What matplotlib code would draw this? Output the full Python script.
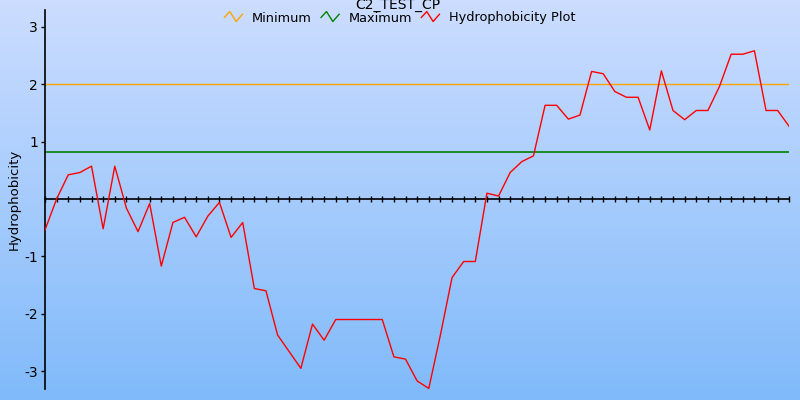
import matplotlib
matplotlib.use("Agg")
import matplotlib.pyplot as plt
import numpy as np
from matplotlib.legend_handler import HandlerBase
from matplotlib.lines import Line2D

title = "C2_TEST_CP"
ylabel = "Hydrophobicity"
series_names = ["Minimum", "Maximum", "Hydrophobicity Plot"]
series_colors = ["#FFA500", "#008000", "#FF0000"]
minimum_value = 2.0
maximum_value = 0.82
hydro = [-0.54, 0.0, 0.42, 0.46, 0.57, -0.52, 0.57, -0.16, -0.57, -0.08,
         -1.17, -0.41, -0.32, -0.66, -0.30, -0.06, -0.67, -0.41, -1.56, -1.60,
         -2.37, -2.66, -2.95, -2.18, -2.46, -2.10, -2.10, -2.10, -2.10, -2.10,
         -2.75, -2.79, -3.17, -3.30, -2.37, -1.37, -1.09, -1.09, 0.10, 0.05,
         0.46, 0.65, 0.75, 1.63, 1.63, 1.39, 1.46, 2.22, 2.18, 1.87,
         1.77, 1.77, 1.20, 2.23, 1.54, 1.38, 1.54, 1.54, 1.96, 2.52,
         2.52, 2.58, 1.54, 1.54, 1.26]
ytick_vals = [-3, -2, -1, 1, 2, 3]
ytick_labels = ["-3", "-2", "-1", "1", "2", "3"]

x = np.arange(len(hydro))

fig = plt.figure(figsize=(8, 4), dpi=100)

# gradient background
bg = fig.add_axes([0, 0, 1, 1], zorder=0)
grad = np.linspace(0, 1, 256).reshape(-1, 1)
top = np.array([204, 221, 255]) / 255
bot = np.array([128, 186, 250]) / 255
img = top[None, None, :] * (1 - grad[:, :, None]) + bot[None, None, :] * grad[:, :, None]
bg.imshow(img, aspect="auto", extent=[0, 1, 0, 1], origin="upper")
bg.set_axis_off()

ax_w = (789.3 - 45) / 800
ax = fig.add_axes([45 / 800, 1 - 389 / 400, ax_w, 379 / 400], zorder=1)
ax.patch.set_alpha(0)

ax.axhline(minimum_value, color=series_colors[0], lw=1.0, zorder=2)
ax.axhline(maximum_value, color=series_colors[1], lw=1.2, zorder=2)
ax.plot(x, hydro, color=series_colors[2], lw=1.0, zorder=3)

ax.set_xlim(0, len(hydro) - 1)
ax.set_ylim(-3.31, 3.29)

ax.spines["top"].set_visible(False)
ax.spines["right"].set_visible(False)
ax.spines["bottom"].set_position(("data", 0))
ax.spines["bottom"].set_linewidth(1.2)
ax.spines["left"].set_linewidth(1.2)
ax.set_xticks(x)
ax.set_xticklabels([])
ax.tick_params(axis="x", direction="inout", length=5, width=1.0, color="black")
ax.set_yticks(ytick_vals)
ax.set_yticklabels(ytick_labels, fontsize=10)
ax.tick_params(axis="y", direction="out", length=3, width=1, pad=2)
ax.set_ylabel(ylabel, fontsize=9.5)
ax.yaxis.set_label_coords(-(45 - 21) / 800 / ax_w, 0.5)


class ZigZagHandler(HandlerBase):
    def create_artists(self, legend, orig_handle, xdescent, ydescent,
                       width, height, fontsize, trans):
        xs = np.array([0.0, 0.3, 0.65, 1.0]) * width - xdescent
        ys = np.array([0.45, 1.1, 0.0, 0.8]) * height - ydescent
        ln = Line2D(xs, ys, color=orig_handle.get_color(), lw=1.0)
        ln.set_transform(trans)
        return [ln]


handles = [Line2D([], [], color=c) for c in series_colors]
fig.legend(handles, series_names, handler_map={Line2D: ZigZagHandler()},
           loc="center", bbox_to_anchor=(0.5, 1 - 18 / 400), ncol=3,
           frameon=False, fontsize=9.3, handlelength=1.4, handletextpad=0.75,
           columnspacing=0.7, borderpad=0)

fig.text(0.4975, 1 - 5 / 400, title, ha="center", va="center", fontsize=10)

fig.savefig("out.png", dpi=100)
